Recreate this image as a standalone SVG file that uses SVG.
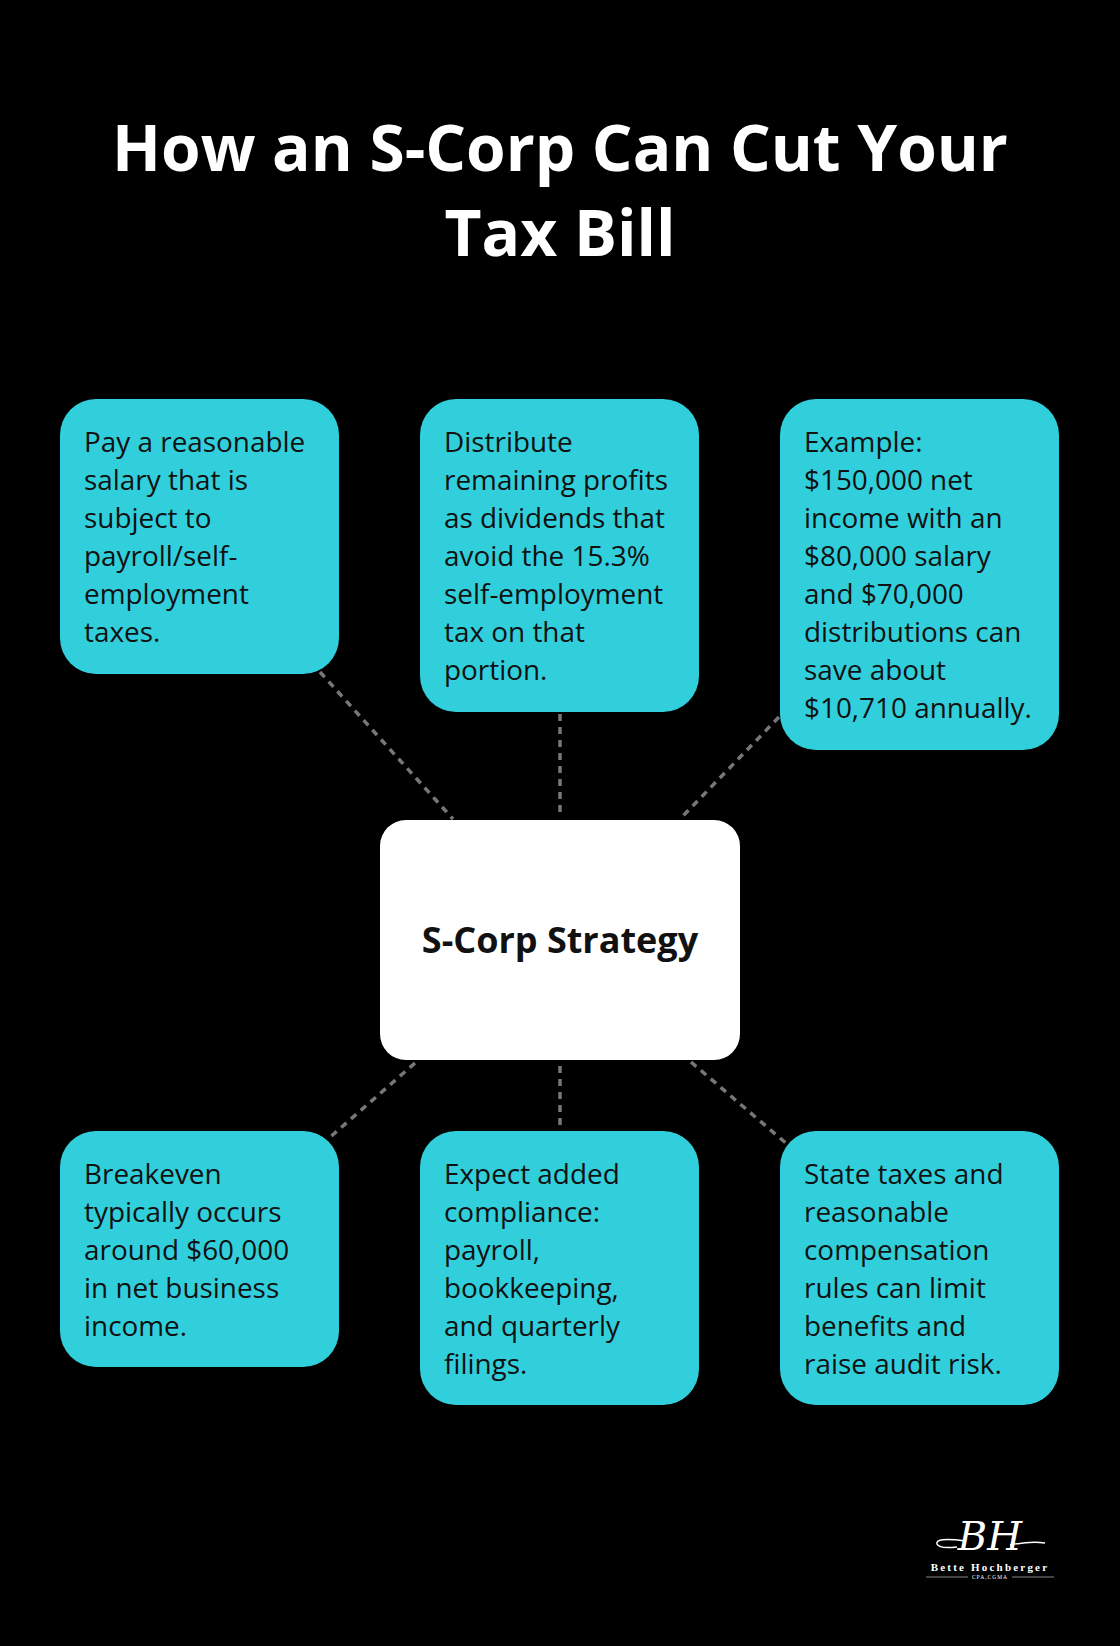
<svg xmlns="http://www.w3.org/2000/svg" width="1120" height="1646" viewBox="0 0 1120 1646">
<style>
.box{fill:#31CFDB}
.t{font-family:"Open Sans","Noto Sans",sans-serif;font-size:27.9px;fill:#111}
.con{stroke:#777;stroke-width:3.5;stroke-dasharray:7 6;fill:none}
</style>
<rect width="1120" height="1646" fill="#000"/>
<g id="title" font-family="'Open Sans','Noto Sans',sans-serif" font-weight="bold" font-size="64" fill="#fff" text-anchor="middle">
<text x="560" y="171">How an S-Corp Can Cut Your</text>
<text x="560" y="256">Tax Bill</text>
</g>
<g id="connectors" class="con">
<line x1="320" y1="672" x2="453" y2="819"/>
<line x1="560" y1="714" x2="560" y2="814"/>
<line x1="779" y1="717" x2="682" y2="817"/>
<line x1="415" y1="1063" x2="328" y2="1139"/>
<line x1="560" y1="1066" x2="560" y2="1125"/>
<line x1="691" y1="1062" x2="787" y2="1144"/>
</g>
<g id="center">
<rect x="380" y="820" width="360" height="240" rx="26" fill="#fff"/>
<text x="560" y="953" text-anchor="middle" font-family="'Open Sans','Noto Sans',sans-serif" font-weight="bold" font-size="36" fill="#111">S-Corp Strategy</text>
</g>
<g id="n1"><rect class="box" x="60" y="399" width="279" height="275" rx="36"/>
<text class="t" x="84" y="452"><tspan x="84">Pay a reasonable</tspan><tspan x="84" dy="38">salary that is</tspan><tspan x="84" dy="38">subject to</tspan><tspan x="84" dy="38">payroll/self-</tspan><tspan x="84" dy="38">employment</tspan><tspan x="84" dy="38">taxes.</tspan></text></g>
<g id="n2"><rect class="box" x="420" y="399" width="279" height="313" rx="36"/>
<text class="t" x="444" y="452"><tspan x="444">Distribute</tspan><tspan x="444" dy="38">remaining profits</tspan><tspan x="444" dy="38">as dividends that</tspan><tspan x="444" dy="38">avoid the 15.3%</tspan><tspan x="444" dy="38">self-employment</tspan><tspan x="444" dy="38">tax on that</tspan><tspan x="444" dy="38">portion.</tspan></text></g>
<g id="n3"><rect class="box" x="780" y="399" width="279" height="351" rx="36"/>
<text class="t" x="804" y="452"><tspan x="804">Example:</tspan><tspan x="804" dy="38">$150,000 net</tspan><tspan x="804" dy="38">income with an</tspan><tspan x="804" dy="38">$80,000 salary</tspan><tspan x="804" dy="38">and $70,000</tspan><tspan x="804" dy="38">distributions can</tspan><tspan x="804" dy="38">save about</tspan><tspan x="804" dy="38">$10,710 annually.</tspan></text></g>
<g id="n4"><rect class="box" x="60" y="1131" width="279" height="236" rx="36"/>
<text class="t" x="84" y="1184"><tspan x="84">Breakeven</tspan><tspan x="84" dy="38">typically occurs</tspan><tspan x="84" dy="38">around $60,000</tspan><tspan x="84" dy="38">in net business</tspan><tspan x="84" dy="38">income.</tspan></text></g>
<g id="n5"><rect class="box" x="420" y="1131" width="279" height="274" rx="36"/>
<text class="t" x="444" y="1184"><tspan x="444">Expect added</tspan><tspan x="444" dy="38">compliance:</tspan><tspan x="444" dy="38">payroll,</tspan><tspan x="444" dy="38">bookkeeping,</tspan><tspan x="444" dy="38">and quarterly</tspan><tspan x="444" dy="38">filings.</tspan></text></g>
<g id="n6"><rect class="box" x="780" y="1131" width="279" height="274" rx="36"/>
<text class="t" x="804" y="1184"><tspan x="804">State taxes and</tspan><tspan x="804" dy="38">reasonable</tspan><tspan x="804" dy="38">compensation</tspan><tspan x="804" dy="38">rules can limit</tspan><tspan x="804" dy="38">benefits and</tspan><tspan x="804" dy="38">raise audit risk.</tspan></text></g>
<g id="logo" fill="#fff">
<text x="990" y="1550" text-anchor="middle" font-family="'DejaVu Serif',serif" font-style="italic" font-size="40">BH</text>
<path d="M965 1541 q-30 -4 -28 3 q2 5 20 3 M1010 1545 q20 -4 35 -2" stroke="#fff" stroke-width="1.5" fill="none"/>
<text x="990" y="1571" text-anchor="middle" font-family="'Liberation Serif',serif" font-weight="bold" font-size="11" letter-spacing="2.2">Bette Hochberger</text>
<text x="990" y="1579" text-anchor="middle" font-family="'Liberation Serif',serif" font-size="5.5" letter-spacing="1">CPA,CGMA</text>
<path d="M926 1577 H968 M1012 1577 H1054" stroke="#aaa" stroke-width="0.8"/>
</g>
</svg>
